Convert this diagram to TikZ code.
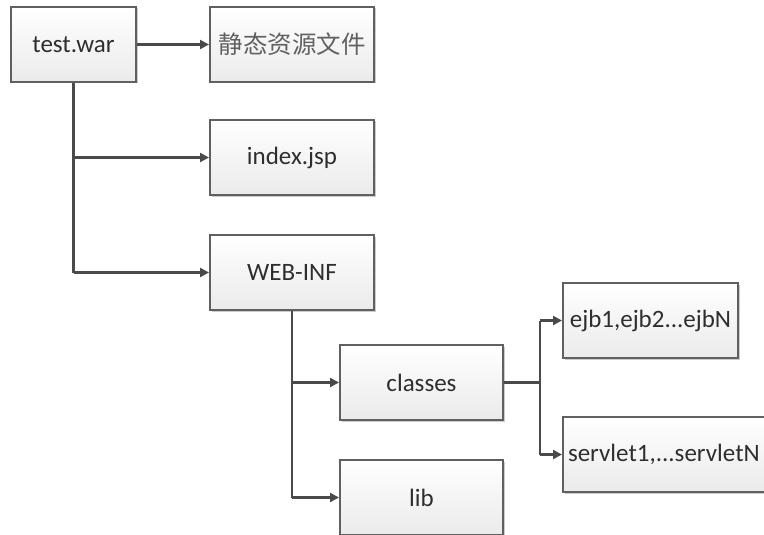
\documentclass[tikz,border=0pt]{standalone}
\usepackage{fontspec}
\setmainfont{Carlito}
\newfontfamily\cjk{Noto Sans CJK SC}
\usetikzlibrary{arrows.meta,shadows}
\definecolor{edgegray}{HTML}{606060}
\definecolor{linegray}{HTML}{4A4A4A}
\definecolor{txtgray}{HTML}{2E2E2E}
\tikzset{
  filebox/.style={draw=edgegray, line width=2pt, top color=white, bottom color=black!8,
    minimum width=163pt, minimum height=75pt, inner sep=0pt, text=txtgray,
    font=\fontsize{25}{28}\selectfont,
    drop shadow={shadow xshift=1.5pt, shadow yshift=-1.5pt, opacity=0.2, fill=black}},
  link/.style={draw=linegray, line width=2.2pt, -{Triangle[length=9pt,width=9pt]}},
  wire/.style={draw=linegray, line width=2.2pt}
}
\begin{document}
\begin{tikzpicture}[x=1pt,y=-1pt]
\useasboundingbox (0,0) rectangle (764,535);
\clip (0,0) rectangle (764,535);
% top level: the archive and its entries
\node[filebox, minimum width=125pt] (war) at (73.5,44.5) {test.war};
\node[filebox, minimum width=164pt] (static) at (292,44.5) {\cjk\color{black!62}\fontsize{24.5}{27}\selectfont 静态资源文件};
\node[filebox, minimum width=164pt] (index) at (292,157.5) {index.jsp};
\node[filebox, minimum width=164pt] (webinf) at (292,272.5) {WEB-INF};
% WEB-INF contents
\node[filebox] (classes) at (421.5,382.5) {classes};
\node[filebox] (lib) at (421.5,497.5) {lib};
% classes contents
\node[filebox, minimum width=175pt] (ejb) at (650.5,320.5) {ejb1,ejb2...ejbN};
\node[filebox, minimum width=210pt, text width=200pt, align=left] (servlet) at (668,454.5) {servlet1,...servletN};
% connectors
\coordinate (warT) at (73.5,157.5);
\coordinate (warB) at (73.5,272.5);
\coordinate (webT) at (292,382.5);
\coordinate (webB) at (292,497.5);
\coordinate (split) at (540,382.5);
\coordinate (splitT) at (540,320.5);
\coordinate (splitB) at (540,454.5);
\draw[link] (war) -- (static);
\draw[wire] (war.south) -- (warB);
\draw[link] (warT) -- (index);
\draw[link] (warB) -- (webinf);
\draw[wire] (webinf.south -| webT) -- (webB);
\draw[link] (webT) -- (classes);
\draw[link] (webB) -- (lib);
\draw[wire] (classes.east) -- (split);
\draw[wire] (splitT) -- (splitB);
\draw[link] (splitT) -- (ejb.west);
\draw[link] (splitB) -- (servlet.west);
\end{tikzpicture}
\end{document}
